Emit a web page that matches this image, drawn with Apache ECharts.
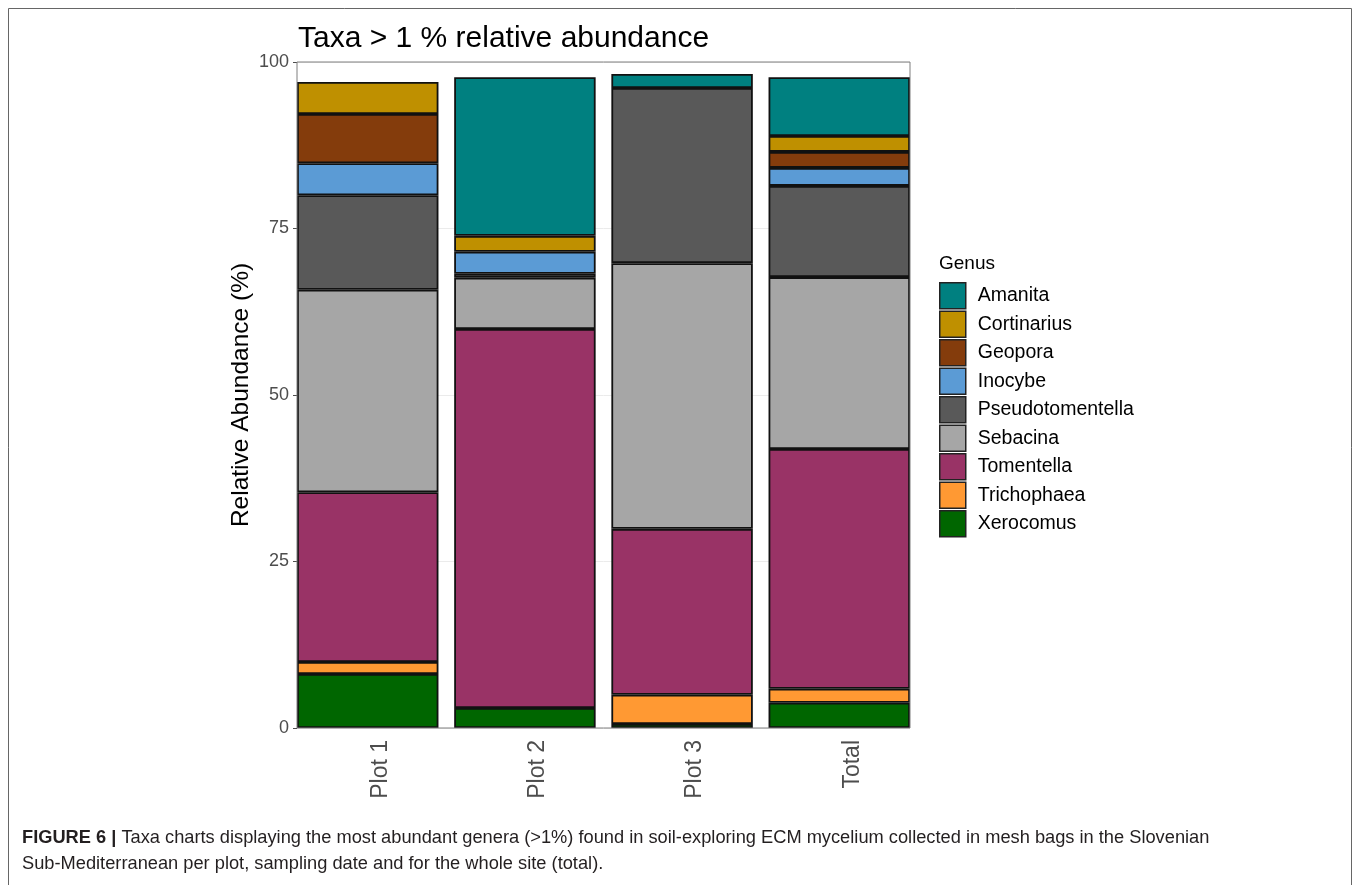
<!DOCTYPE html>
<html>
<head>
<meta charset="utf-8">
<script src="https://cdn.jsdelivr.net/npm/echarts@6/dist/echarts.min.js"></script>
<style>
  html, body { margin: 0; padding: 0; background: #fff; }
  #chart { width: 1360px; height: 885px; }
</style>
</head>
<body>
<div id="chart"></div>
<script>
// Sampling units on the x axis
const categories = ['Plot 1', 'Plot 2', 'Plot 3', 'Total'];

// Relative abundance (%) per genus, one value per sampling unit
const xerocomus        = [8.1, 3.0, 0.6, 3.8];
const trichophaea      = [1.8, 0, 4.4, 2.1];
const tomentella       = [25.5, 56.9, 24.9, 36.0];
const sebacina         = [30.4, 7.7, 39.9, 25.8];
const pseudotomentella = [14.2, 0.6, 26.3, 13.7];
const inocybe          = [4.8, 3.3, 0, 2.7];
const geopora          = [7.4, 0, 0, 2.4];
const cortinarius      = [4.8, 2.4, 0, 2.4];
const amanita          = [0, 23.8, 2.1, 8.8];

const yTicks = [0, 25, 50, 75, 100];

// Stacked bottom-to-top
const genera = [
  { name: 'Xerocomus',        values: xerocomus,        color: '#006600' },
  { name: 'Trichophaea',      values: trichophaea,      color: '#FF9933' },
  { name: 'Tomentella',       values: tomentella,       color: '#993366' },
  { name: 'Sebacina',         values: sebacina,         color: '#A6A6A6' },
  { name: 'Pseudotomentella', values: pseudotomentella, color: '#595959' },
  { name: 'Inocybe',          values: inocybe,          color: '#5B9BD5' },
  { name: 'Geopora',          values: geopora,          color: '#843C0C' },
  { name: 'Cortinarius',      values: cortinarius,      color: '#BF9000' },
  { name: 'Amanita',          values: amanita,          color: '#008080' }
];

const font = '"Liberation Sans", Arial, Helvetica, sans-serif';
const chart = echarts.init(document.getElementById('chart'), null, { renderer: 'canvas' });

// Panel: x from 297 to 910, y from 62 (100 %) to 728 (0 %).
// Bars fill the panel edge to edge with a 10 % gap between neighbours,
// so the bar grid is half a gap wider than the panel on both sides.
const panel = { left: 297, top: 62, width: 613, height: 666 };
const barW = panel.width * 3 / 13;
const gap = barW / 9;

const series = genera.map(g => ({
  name: g.name,
  type: 'bar',
  stack: 'abundance',
  xAxisIndex: 1,
  yAxisIndex: 1,
  barWidth: barW,
  data: g.values.map(v => (v === 0 ? '-' : v)),
  itemStyle: { color: g.color, borderColor: '#111', borderWidth: 1.8 },
  emphasis: { disabled: true },
  animation: false
}));

chart.setOption({
  animation: false,
  backgroundColor: '#fff',
  textStyle: { fontFamily: font },
  title: [
    {
      text: 'Taxa > 1 % relative abundance',
      left: 298, top: 24, padding: 0,
      textStyle: { fontFamily: font, fontSize: 30, fontWeight: 'normal', color: '#000' }
    },
    {
      text: 'Genus',
      left: 939, top: 254, padding: 0,
      textStyle: { fontFamily: font, fontSize: 19, fontWeight: 'normal', color: '#000' }
    }
  ],
  legend: {
    orient: 'vertical',
    left: 939, top: 282, padding: 0,
    itemWidth: 26, itemHeight: 26, itemGap: 1,
    icon: 'rect',
    selectedMode: false,
    data: genera.map(g => g.name).reverse(),
    itemStyle: { borderColor: '#222', borderWidth: 1.5 },
    textStyle: { fontFamily: font, fontSize: 19.5, color: '#000', padding: [0, 0, 0, 7] }
  },
  grid: [
    // panel with y axis, grid lines and border
    {
      left: panel.left, top: panel.top, width: panel.width, height: panel.height,
      show: true, borderColor: '#7f7f7f', borderWidth: 1, backgroundColor: 'transparent', z: 3
    },
    // bars
    {
      left: panel.left - gap / 2, top: panel.top, width: panel.width + gap, height: panel.height
    },
    // x tick labels (set slightly right of the bar centres)
    {
      left: panel.left - gap / 2 + 13, top: panel.top, width: panel.width + gap, height: panel.height
    }
  ],
  xAxis: [
    { type: 'category', gridIndex: 0, data: categories, show: false },
    { type: 'category', gridIndex: 1, data: categories, show: false },
    {
      type: 'category', gridIndex: 2, data: categories,
      axisLine: { show: false },
      axisTick: { show: false },
      axisLabel: { rotate: 90, margin: 12, fontFamily: font, fontSize: 23, color: '#4d4d4d' }
    }
  ],
  yAxis: [
    {
      type: 'value', gridIndex: 0,
      min: yTicks[0], max: yTicks[yTicks.length - 1], interval: 25,
      name: 'Relative Abundance (%)',
      nameLocation: 'middle', nameGap: 43,
      nameTextStyle: { fontFamily: font, fontSize: 24.5, color: '#000' },
      axisLine: { show: false },
      axisTick: { show: true, length: 4, lineStyle: { color: '#4d4d4d' } },
      axisLabel: { fontFamily: font, fontSize: 18, color: '#4d4d4d', margin: 8 },
      splitLine: { show: true, lineStyle: { color: '#ebebeb', width: 1 } }
    },
    { type: 'value', gridIndex: 1, min: 0, max: 100, show: false },
    { type: 'value', gridIndex: 2, min: 0, max: 100, show: false }
  ],
  series: series,
  graphic: [
    {
      type: 'rect',
      shape: { x: 8.5, y: 8.5, width: 1343, height: 900 },
      style: { fill: 'none', stroke: '#666', lineWidth: 1 },
      silent: true, z: -1
    },
    {
      type: 'text',
      left: 22, top: 829,
      style: {
        text: '{b|FIGURE 6 |} Taxa charts displaying the most abundant genera (>1%) found in soil-exploring ECM mycelium collected in mesh bags in the Slovenian',
        rich: {
          b: { fontFamily: font, fontSize: 18.25, fontWeight: 'bold', fill: '#231f20' }
        },
        fontFamily: font, fontSize: 18.25, fill: '#231f20'
      }
    },
    {
      type: 'text',
      left: 22, top: 855,
      style: {
        text: 'Sub-Mediterranean per plot, sampling date and for the whole site (total).',
        fontFamily: font, fontSize: 18.25, fill: '#231f20'
      }
    }
  ]
});
</script>
</body>
</html>
